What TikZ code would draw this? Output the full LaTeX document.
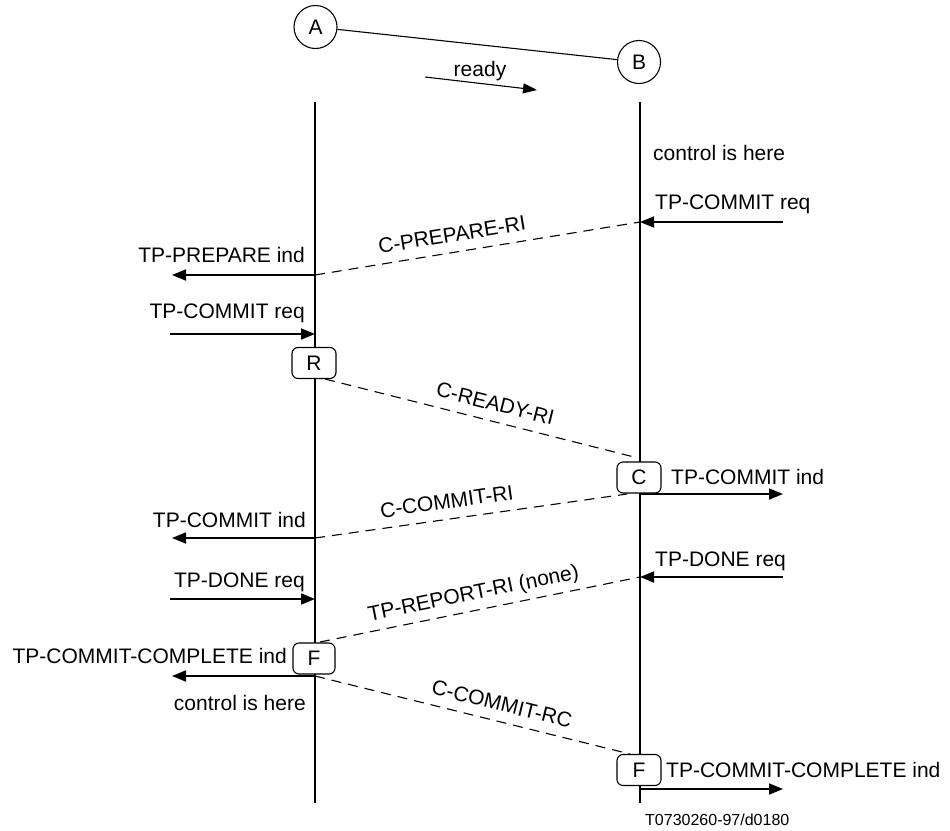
\documentclass[tikz,border=0pt]{standalone}
\usepackage{fontspec}
\setmainfont{Liberation Sans}
\usetikzlibrary{arrows.meta}
\begin{document}
\begin{tikzpicture}[x=1pt,y=-1pt,
  every node/.style={font=\fontsize{21}{25}\selectfont},
  life/.style={line width=1.8pt},
  msg/.style={line width=1.8pt,-{Triangle[length=14pt,width=11pt]}},
  sig/.style={line width=1.1pt,dash pattern=on 10pt off 7pt},
  lbl/.style={sloped,above=8pt,inner sep=2pt,text depth=0pt},
  ent/.style={circle,draw,line width=1.1pt,minimum size=43pt,inner sep=0pt},
  stbox/.style={draw,rounded corners=6pt,line width=1.1pt,minimum width=44pt,minimum height=31pt,inner sep=0pt,fill=white},
  txt/.style={inner sep=0pt}
]
\useasboundingbox (0,0) rectangle (950,830);

% entities
\node[ent] (A) at (315.5,27) {A};
\node[ent] (B) at (639,62) {B};
\draw[line width=1.1pt] (A) -- (B);
\node[txt,anchor=base] (ready) at (480,76) {ready};
\coordinate (r1) at (425,77);
\coordinate (r2) at (537,90);
\draw[line width=1.1pt,-{Triangle[length=14pt,width=10pt]}] (r1) -- (r2);

% lifelines
\coordinate (Ltop) at (315,102);
\coordinate (Lbot) at (315,803);
\coordinate (Rtop) at (640,102);
\coordinate (Rbot) at (640,803);
\draw[life] (Ltop) -- (Lbot);
\draw[life] (Rtop) -- (Rbot);

% coordinates of events
\coordinate (e1) at (783,222);
\coordinate (b1) at (640,222);
\coordinate (a1) at (315,275);
\coordinate (w1) at (172,275);
\coordinate (w2) at (170,334);
\coordinate (a2) at (315,334);
\coordinate (rs) at (325,379);
\coordinate (cn) at (638,458);
\coordinate (b3) at (640,494);
\coordinate (e3) at (783,494);
\coordinate (cs) at (627,494);
\coordinate (a4) at (315,538);
\coordinate (w4) at (172,538);
\coordinate (e5) at (783,577);
\coordinate (b5) at (640,577);
\coordinate (w6) at (170,599);
\coordinate (a6) at (315,599);
\coordinate (fn) at (320,642);
\coordinate (a7) at (315,676);
\coordinate (w7) at (172,676);
\coordinate (fr) at (630,754);
\coordinate (b8) at (640,789);
\coordinate (e8) at (783,789);

% dashed protocol messages
\draw[sig] (a1) -- node[lbl,pos=0.43]{C-PREPARE-RI} (b1);
\draw[sig] (rs) -- node[lbl,pos=0.53]{C-READY-RI} (cn);
\draw[sig] (a4) -- node[lbl,pos=0.43]{C-COMMIT-RI} (cs);
\draw[sig] (fn) -- node[lbl,pos=0.49]{TP-REPORT-RI (none)} (b5);
\draw[sig] (a7) -- node[lbl,pos=0.58]{C-COMMIT-RC} (fr);

% service primitives
\draw[msg] (e1) -- (b1);
\draw[msg] (a1) -- (w1);
\draw[msg] (w2) -- (a2);
\draw[msg] (b3) -- (e3);
\draw[msg] (a4) -- (w4);
\draw[msg] (e5) -- (b5);
\draw[msg] (w6) -- (a6);
\draw[msg] (a7) -- (w7);
\draw[msg] (b8) -- (e8);

% state boxes
\node[stbox] (R) at (314,363) {R};
\node[stbox] (C) at (639,477.5) {C};
\node[stbox,minimum width=42pt] (F1) at (314,658.5) {F};
\node[stbox] (F2) at (639,770) {F};

% texts
\node[txt,anchor=base west] (t1) at (653,160) {control is here};
\node[txt,anchor=base west] (t2) at (655,209) {TP-COMMIT req};
\node[txt,anchor=base east] (t3) at (305,262) {TP-PREPARE ind};
\node[txt,anchor=base east] (t4) at (305,318) {TP-COMMIT req};
\node[txt,anchor=base west] (t5) at (671,484) {TP-COMMIT ind};
\node[txt,anchor=base east] (t6) at (306,527) {TP-COMMIT ind};
\node[txt,anchor=base west] (t7) at (655,566) {TP-DONE req};
\node[txt,anchor=base east] (t8) at (305,587) {TP-DONE req};
\node[txt,anchor=base east] (t9) at (287,663) {TP-COMMIT-COMPLETE ind};
\node[txt,anchor=base east] (t10) at (306,710) {control is here};
\node[txt,anchor=base west] (t11) at (666,777) {TP-COMMIT-COMPLETE ind};
\node[txt,anchor=base west,font=\fontsize{16}{19}\selectfont] (t12) at (645,825) {T0730260-97/d0180};
\end{tikzpicture}
\end{document}
